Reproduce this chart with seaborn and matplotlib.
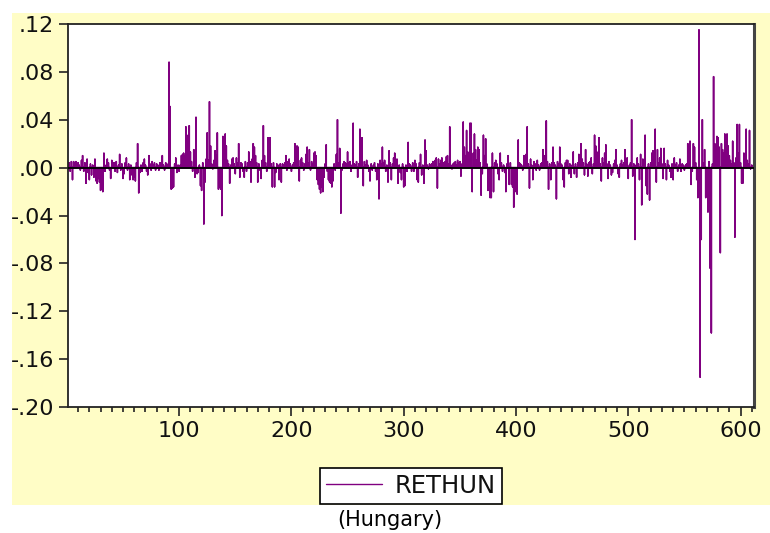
import numpy as np
import pandas as pd
import matplotlib
matplotlib.use("Agg")
import matplotlib.pyplot as plt
import seaborn as sns
from matplotlib.patches import Rectangle
from matplotlib.ticker import FixedLocator, MultipleLocator, FuncFormatter

# ------------------------------------------------------------------
# Data: daily returns of the Hungarian index (RETHUN)
# ------------------------------------------------------------------
series_name = "RETHUN"
caption = "(Hungary)"

rethun = [
    0.002, 0.004, -0.003, 0.005, -0.010, 0.005, 0.004, 0.005, 0.003, 0.004,
    0.002, -0.002, 0.006, 0.010, -0.003, 0.004, -0.013, 0.007, -0.004, -0.010,
    0.003, -0.006, 0.002, -0.008, 0.007, -0.011, -0.013, -0.009, -0.012, -0.019,
    -0.018, -0.020, 0.012, -0.003, 0.002, 0.007, 0.004, -0.002, -0.009, 0.006,
    0.002, 0.004, -0.003, 0.005, -0.004, 0.002, 0.011, -0.002, 0.003, -0.009,
    -0.005, 0.004, 0.008, -0.002, 0.003, -0.010, 0.002, -0.006, -0.010, -0.008,
    -0.011, 0.004, 0.020, -0.021, -0.004, 0.002, -0.003, 0.004, 0.007, 0.002,
    -0.003, -0.006, 0.010, 0.003, -0.002, 0.005, 0.002, 0.004, -0.002, 0.003,
    0.002, -0.002, 0.004, 0.003, 0.010, 0.002, -0.002, 0.004, 0.003, 0.002,
    0.088, 0.051, -0.018, -0.017, -0.016, 0.003, 0.008, -0.004, 0.002, -0.003,
    0.002, 0.010, 0.011, 0.012, 0.010, 0.034, 0.020, 0.027, 0.035, 0.013,
    0.005, -0.003, 0.015, -0.008, 0.042, -0.005, -0.004, 0.002, -0.015, -0.019,
    0.004, -0.047, -0.012, 0.007, 0.029, 0.006, 0.055, 0.018, 0.003, -0.001,
    0.006, 0.014, 0.010, 0.029, -0.018, -0.016, -0.018, -0.040, 0.026, 0.004,
    0.028, 0.018, 0.006, 0.003, -0.013, 0.002, 0.007, 0.008, 0.003, -0.005,
    0.008, 0.004, 0.020, -0.008, 0.004, 0.003, -0.003, -0.008, 0.005, -0.003,
    0.004, 0.013, 0.005, -0.012, 0.007, 0.020, 0.017, 0.010, 0.004, -0.012,
    0.003, -0.002, -0.009, 0.006, 0.035, 0.010, 0.004, -0.003, 0.025, 0.006,
    0.025, 0.003, -0.016, 0.004, -0.016, -0.004, 0.003, 0.002, -0.010, 0.003,
    -0.012, 0.003, 0.002, 0.004, 0.010, -0.002, 0.005, 0.007, 0.003, -0.003,
    0.002, 0.004, 0.020, 0.006, 0.018, 0.017, -0.011, 0.006, 0.008, 0.004,
    -0.002, 0.003, 0.011, 0.017, 0.004, 0.015, -0.002, 0.005, 0.003, 0.012,
    0.013, 0.010, -0.010, -0.014, -0.018, -0.021, -0.016, -0.020, -0.008, 0.003,
    0.019, -0.003, -0.010, -0.012, -0.013, -0.016, -0.011, 0.003, -0.002, 0.011,
    0.040, 0.004, 0.016, -0.038, -0.002, 0.003, 0.005, 0.004, 0.003, 0.013,
    0.004, 0.005, -0.003, 0.002, 0.037, 0.003, 0.002, 0.005, -0.008, 0.003,
    0.032, 0.004, 0.025, -0.015, 0.005, 0.002, 0.006, 0.002, -0.003, -0.011,
    0.003, -0.002, 0.002, 0.004, -0.003, -0.010, 0.003, -0.026, 0.006, 0.003,
    0.017, 0.004, 0.006, -0.003, 0.002, -0.012, 0.014, 0.004, -0.010, 0.003,
    0.008, 0.012, 0.004, 0.007, -0.013, 0.002, -0.004, -0.010, 0.003, -0.016,
    -0.015, 0.002, -0.003, 0.021, 0.003, 0.002, -0.003, 0.004, -0.003, 0.006,
    0.003, -0.010, -0.012, 0.004, 0.011, -0.006, 0.002, -0.013, 0.023, 0.014,
    0.002, -0.001, 0.003, 0.002, 0.003, 0.005, 0.004, 0.006, 0.008, -0.017,
    0.007, 0.003, 0.006, 0.008, 0.004, 0.002, 0.005, 0.009, 0.010, 0.003,
    0.034, 0.002, -0.001, 0.003, 0.004, 0.005, 0.002, 0.006, 0.004, 0.005,
    -0.007, 0.003, 0.038, 0.017, 0.010, 0.031, 0.013, 0.006, 0.037, 0.037,
    -0.020, 0.012, 0.028, 0.015, 0.006, 0.017, 0.015, 0.004, -0.023, -0.005,
    0.027, 0.010, 0.024, 0.003, -0.019, -0.008, -0.025, -0.025, 0.012, -0.020,
    0.004, 0.006, 0.003, -0.005, -0.010, 0.012, 0.004, -0.003, 0.002, -0.004,
    -0.020, 0.003, 0.010, -0.014, 0.004, -0.014, -0.016, -0.033, -0.010, -0.020,
    -0.022, 0.023, 0.004, 0.003, 0.002, -0.002, 0.010, 0.004, 0.011, 0.034,
    0.003, -0.017, 0.007, 0.002, -0.010, 0.005, 0.003, -0.002, 0.006, 0.002,
    -0.002, 0.003, 0.004, 0.015, 0.010, 0.004, 0.039, 0.005, -0.018, 0.003,
    -0.010, 0.004, 0.017, 0.004, 0.002, -0.026, 0.005, 0.003, 0.017, 0.003,
    0.002, -0.010, -0.016, 0.004, 0.006, 0.006, -0.005, 0.003, -0.008, 0.002,
    0.013, -0.005, 0.003, -0.008, 0.004, 0.011, 0.003, 0.020, 0.007, 0.004,
    -0.006, 0.015, 0.003, -0.007, 0.004, 0.005, 0.008, -0.005, 0.003, 0.027,
    0.018, 0.013, 0.004, 0.025, 0.003, -0.011, 0.008, 0.004, 0.012, 0.019,
    0.003, -0.009, 0.005, 0.002, -0.006, -0.004, 0.003, 0.006, 0.015, 0.002,
    -0.005, -0.008, 0.003, 0.006, 0.002, 0.004, 0.015, 0.003, 0.008, -0.009,
    0.002, 0.004, 0.040, -0.007, 0.003, -0.060, 0.002, 0.008, 0.003, -0.010,
    0.011, -0.031, 0.007, 0.004, 0.027, -0.015, -0.022, 0.003, -0.027, 0.004,
    0.012, 0.014, 0.003, 0.032, -0.012, 0.015, 0.004, 0.008, 0.016, 0.003,
    -0.009, 0.016, 0.003, -0.010, 0.006, 0.002, -0.003, -0.008, 0.003, -0.010,
    0.008, 0.002, 0.004, -0.003, 0.002, 0.007, -0.003, 0.003, 0.002, -0.002,
    0.002, 0.003, 0.020, 0.004, 0.022, -0.014, -0.003, 0.020, 0.017, 0.004,
    -0.010, -0.025, 0.115, -0.175, -0.060, 0.040, 0.004, 0.015, -0.025, -0.012,
    -0.037, 0.005, -0.084, -0.138, 0.003, 0.076, 0.020, 0.012, 0.026, 0.025,
    0.017, -0.071, 0.020, 0.015, 0.012, 0.028, 0.016, 0.028, 0.018, 0.010,
    0.006, 0.003, 0.022, 0.004, -0.058, 0.008, 0.036, 0.012, 0.036, 0.004,
    -0.013, -0.013, 0.012, 0.004, 0.032, 0.006, 0.003, 0.031, -0.001, 0.002,
]
obs = np.arange(1, len(rethun) + 1)

y_ticks = [0.12, 0.08, 0.04, 0.00, -0.04, -0.08, -0.12, -0.16, -0.20]
x_ticks = [100, 200, 300, 400, 500, 600]

# spike chart: each observation goes 0 -> value -> 0
spikes = pd.DataFrame({
    "obs": np.repeat(obs, 3),
    "value": np.column_stack([np.zeros(len(rethun)), rethun,
                              np.zeros(len(rethun))]).ravel(),
})

# ------------------------------------------------------------------
# Plot
# ------------------------------------------------------------------
sns.set_style("ticks")
plt.rcParams["font.family"] = ["DejaVu Sans"]

fig = plt.figure(figsize=(7.7, 5.33), dpi=100, facecolor="white")
fig.patches.append(Rectangle((12 / 770, 28 / 533), 1, 492 / 533,
                             transform=fig.transFigure, facecolor="#FFFDC6",
                             edgecolor="none", zorder=-10))

ax = fig.add_axes([68 / 770, 1 - 407 / 533, 686 / 770, 383 / 533])
ax.set_facecolor("white")

sns.lineplot(data=spikes, x="obs", y="value", sort=False, estimator=None,
             color="#800080", lw=1.15, label=series_name, ax=ax)
ax.axhline(0, color="black", lw=1.3, zorder=3)

ax.set_xlim(1, 612)
ax.set_ylim(-0.20, 0.12)
ax.xaxis.set_major_locator(FixedLocator(x_ticks))
ax.xaxis.set_minor_locator(MultipleLocator(10))
ax.yaxis.set_major_locator(FixedLocator(y_ticks))
ax.yaxis.set_major_formatter(FuncFormatter(
    lambda v, p: ("-" if v < -1e-9 else "") + f"{abs(v):.2f}".lstrip("0")))

ax.tick_params(axis="both", which="major", direction="out", length=6.5,
               width=1.2, color="#222222", labelsize=16, labelcolor="#111111")
ax.tick_params(axis="x", which="major", pad=3.5)
ax.tick_params(axis="y", which="major", pad=3.5)
ax.tick_params(axis="x", which="minor", direction="out", length=3.8,
               width=1.2, color="#222222")
ax.set_xlabel("")
ax.set_ylabel("")

for side in ["left", "bottom", "top"]:
    ax.spines[side].set_color("#222222")
    ax.spines[side].set_linewidth(1.3)
ax.spines["right"].set_color("#444444")
ax.spines["right"].set_linewidth(2.2)

leg = ax.legend(loc="center", bbox_to_anchor=(411 / 770, 1 - 486 / 533),
                bbox_transform=fig.transFigure, fontsize=17.5, frameon=True,
                fancybox=False, framealpha=1, edgecolor="black",
                handlelength=2.3, borderpad=0.25, handletextpad=0.55,
                borderaxespad=0, labelcolor="#111111")
leg.get_frame().set_linewidth(1.2)
for line in leg.get_lines():
    line.set_linewidth(1.0)

fig.text(390 / 770, 1 - 520 / 533, caption, ha="center", va="center",
         fontsize=15, color="black")

fig.savefig("out.png", dpi=100, facecolor=fig.get_facecolor())
